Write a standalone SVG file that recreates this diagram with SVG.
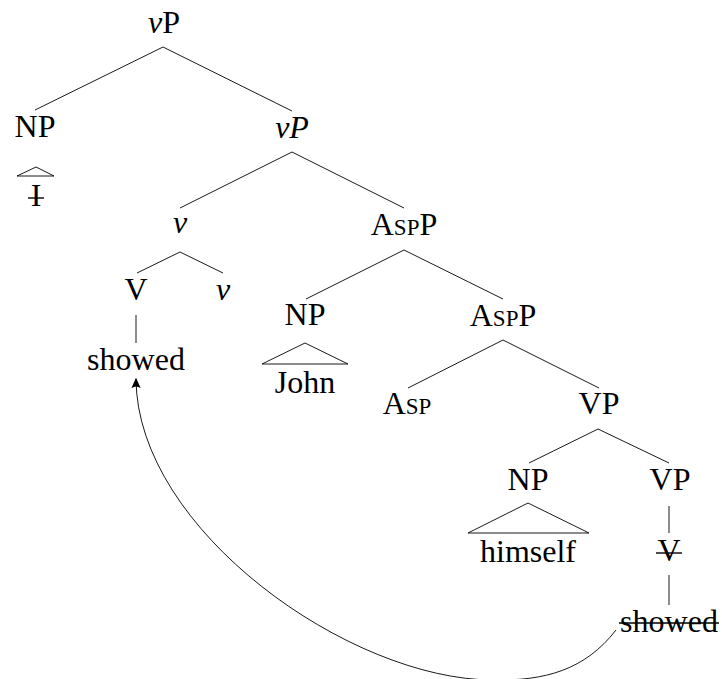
<svg xmlns="http://www.w3.org/2000/svg" width="722" height="679" viewBox="0 0 722 679">
<style>
text{font-family:"Liberation Serif","Times New Roman",Times,"Nimbus Roman","DejaVu Serif",serif;font-size:32px;fill:#000;text-anchor:middle}
.it{font-style:italic}
.sc{font-size:23px}
.e{stroke:#000;stroke-width:0.9;fill:none}
.tri{stroke:#000;stroke-width:0.9;fill:none;stroke-linejoin:miter}
.strike{stroke:#000;stroke-width:1.4}
</style>
<defs>
<marker id="arr" markerUnits="userSpaceOnUse" markerWidth="14" markerHeight="14" refX="0" refY="0" viewBox="-10 -6 12 12" orient="auto" overflow="visible">
<path d="M1,0 L-8,-4 Q-5,0 -8,4 Z" fill="#000"/>
</marker>
</defs>
<rect width="722" height="679" fill="#fff"/>
<g id="connectors">
<line class="e" x1="163" y1="47" x2="35" y2="110"/>
<line class="e" x1="163" y1="47" x2="292" y2="111"/>
<line class="e" x1="292" y1="152" x2="180" y2="208"/>
<line class="e" x1="292" y1="152" x2="404" y2="208"/>
<line class="e" x1="180" y1="252" x2="137" y2="273"/>
<line class="e" x1="180" y1="252" x2="223" y2="273"/>
<line class="e" x1="136" y1="315" x2="136" y2="343"/>
<line class="e" x1="404" y1="250" x2="306" y2="299"/>
<line class="e" x1="404" y1="250" x2="503" y2="299"/>
<line class="e" x1="503" y1="340" x2="408" y2="388"/>
<line class="e" x1="503" y1="340" x2="599" y2="388"/>
<line class="e" x1="598" y1="429" x2="529" y2="463"/>
<line class="e" x1="598" y1="429" x2="669" y2="463"/>
<line class="e" x1="669" y1="506" x2="669" y2="533"/>
<line class="e" x1="669" y1="575" x2="669" y2="605"/>
<path class="e" d="M616,630 C585,670 545,681 493,680 C350,680 137,530 136,379" marker-end="url(#arr)"/>
</g>
<g id="vP-root"><text x="164" y="33"><tspan class="it">v</tspan>P</text></g>
<g id="NP-subj"><text x="35" y="137">NP</text></g>
<g id="I-trace">
<polygon class="tri" points="36,167 17,176 54,176"/>
<text x="36" y="206">I</text>
<line class="strike" x1="28" y1="198" x2="44" y2="198"/>
</g>
<g id="vP-bar"><text class="it" x="292" y="138">vP</text></g>
<g id="v-head"><text class="it" x="180" y="233">v</text></g>
<g id="AspP-1"><text x="404" y="235">A<tspan class="sc">SP</tspan>P</text></g>
<g id="V-moved"><text x="136" y="300">V</text></g>
<g id="v-small"><text class="it" x="223" y="300">v</text></g>
<g id="showed-moved"><text x="136" y="370">showed</text></g>
<g id="NP-John"><text x="305" y="325">NP</text></g>
<g id="John">
<polygon class="tri" points="305,343 262,364 348,364"/>
<text x="305" y="393">John</text>
</g>
<g id="AspP-2"><text x="503" y="326">A<tspan class="sc">SP</tspan>P</text></g>
<g id="Asp"><text x="407" y="414">A<tspan class="sc">SP</tspan></text></g>
<g id="VP-1"><text x="599" y="414">VP</text></g>
<g id="NP-himself"><text x="528" y="490">NP</text></g>
<g id="himself">
<polygon class="tri" points="528,503 468,533 589,533"/>
<text x="528" y="562">himself</text>
</g>
<g id="VP-2"><text x="670" y="490">VP</text></g>
<g id="V-trace">
<text x="669" y="561">V</text>
<line class="strike" x1="656" y1="553" x2="682" y2="553"/>
</g>
<g id="showed-trace">
<text x="669" y="632">showed</text>
<line class="strike" x1="619" y1="623" x2="719" y2="623"/>
</g>
</svg>
